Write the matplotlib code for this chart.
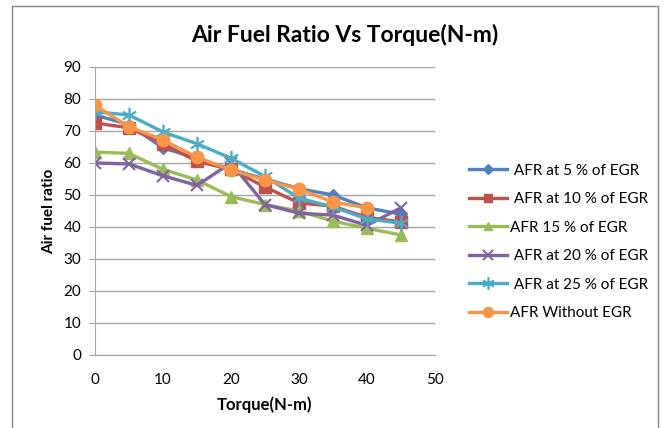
import matplotlib
matplotlib.use('Agg')
import matplotlib.pyplot as plt
from matplotlib.patches import Rectangle

plt.rcParams['font.family'] = ['Lato', 'DejaVu Sans']

torque = [0, 5, 10, 15, 20, 25, 30, 35, 40, 45]
afr_5 = [75, 72, 64.7, 61.5, 58, 55, 52, 50, 46, 44]
afr_10 = [72.5, 71, 66, 60.5, 58, 52.5, 47.5, 46.5, 43, 41.6]
afr_15 = [63.4, 63, 58, 54.7, 49.5, 47, 45, 41.8, 39.6, 37.5]
afr_20 = [60, 59.7, 56, 53, 60, 47, 44.3, 43.7, 40.5, 46]
afr_25 = [76, 75, 69.7, 66, 61.5, 55.8, 49, 46.3, 42.5, 41.2]
afr_none = [78, 71.3, 67.2, 61.8, 57.8, 54.7, 51.8, 47.8, 46]
labels = [' AFR at 5 % of EGR', ' AFR at 10 % of EGR', 'AFR 15 % of EGR',
          ' AFR at 20 % of EGR', ' AFR at 25 % of EGR', 'AFR Without EGR']

fig = plt.figure(figsize=(6.66, 4.28), dpi=100)
ax = fig.add_axes([0.1426, 0.1706, 0.5105, 0.6729])

# outer chart frame
fig.patches.append(Rectangle((12 / 666, -0.05), 646 / 666, 1.036, transform=fig.transFigure,
                             fill=False, edgecolor='#868686', linewidth=1))

series = [
    (afr_5, '#4F81BD', 'D', 6, 1),
    (afr_10, '#C0504D', 's', 8, 1),
    (afr_15, '#9BBB59', '^', 8, 1),
    (afr_20, '#8064A2', 'x', 9, 1.5),
    (afr_25, '#4BACC6', (6, 2, 0), 11, 1.2),
    (afr_none, '#F79646', 'o', 9, 1),
]
for (vals, col, mk, ms, mew), lab in zip(series, labels):
    ax.plot(torque[:len(vals)], vals, color=col, linewidth=2.4, marker=mk,
            markersize=ms, markeredgewidth=mew, markeredgecolor=col, label=lab)

ax.set_xlim(0, 50)
ax.set_ylim(0, 90)
ax.set_xticks(range(0, 51, 10))
ax.set_yticks(range(0, 91, 10))
ax.grid(axis='y', color='#A6A6A6', linewidth=1)
ax.set_axisbelow(True)
for s in ['top', 'right']:
    ax.spines[s].set_visible(False)
for s in ['left', 'bottom']:
    ax.spines[s].set_color('#A6A6A6')
ax.tick_params(axis='y', length=4, color='#A6A6A6', labelsize=11, pad=6)
ax.tick_params(axis='x', length=0, labelsize=11, pad=13)

ax.set_xlabel('Torque(N-m)', fontsize=12, fontweight='bold', labelpad=7)
ax.set_ylabel('Air fuel ratio', fontsize=11, fontweight='bold', labelpad=5)
fig.text(345 / 666, 1 - 35 / 428, 'Air Fuel Ratio Vs Torque(N-m)', ha='center', va='center',
         fontsize=16.5, fontweight='bold')

fig.legend(loc='upper left', bbox_to_anchor=(455 / 666, 1 - 150 / 428), frameon=False,
           fontsize=11, handlelength=2.5, labelspacing=0.95, handletextpad=0.2,
           markerscale=0.8)

fig.savefig('out.png', dpi=100)
